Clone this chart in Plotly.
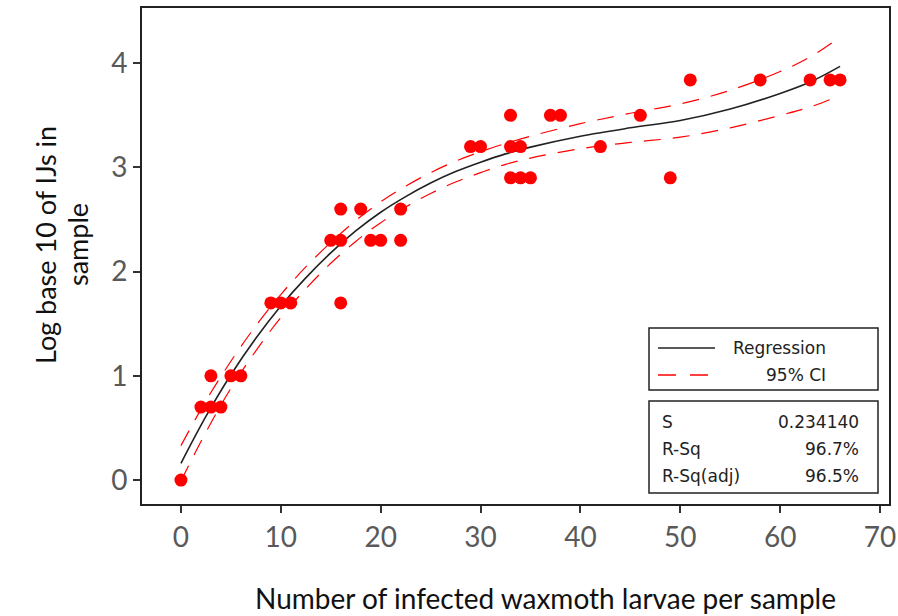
import plotly.graph_objects as go

# ---- data ----
larvae = [0, 2, 3, 4, 3, 5, 6, 9, 10, 11, 15, 16, 16, 16, 18, 19, 20, 22, 22,
          29, 30, 33, 33, 33, 34, 34, 35, 37, 38, 42, 46, 49, 51, 58, 63, 65, 66]
log_ijs = [0.0, 0.7, 0.7, 0.7, 1.0, 1.0, 1.0, 1.7, 1.7, 1.7, 2.3, 2.3, 2.6, 1.7, 2.6, 2.3, 2.3, 2.3, 2.6,
           3.2, 3.2, 3.5, 3.2, 2.9, 3.2, 2.9, 2.9, 3.5, 3.5, 3.2, 3.5, 2.9, 3.84, 3.84, 3.84, 3.84, 3.84]

fit_x = [0, 2.5, 5, 7.5, 10, 12.5, 15, 17.5, 20, 22.5, 25, 27.5, 30, 32.5, 35, 40, 45, 50, 55, 60, 63, 66]
fit_y = [0.16, 0.61, 1.01, 1.36, 1.67, 1.94, 2.18, 2.39, 2.57, 2.72, 2.85, 2.96, 3.05, 3.13, 3.195,
         3.30, 3.38, 3.45, 3.56, 3.71, 3.82, 3.97]
ci_upper = [0.33, 0.76, 1.14, 1.48, 1.78, 2.045, 2.28, 2.49, 2.67, 2.82, 2.95, 3.06, 3.15, 3.23, 3.30,
            3.42, 3.52, 3.61, 3.74, 3.92, 4.06, 4.25]
ci_lower = [-0.01, 0.46, 0.88, 1.24, 1.56, 1.835, 2.08, 2.29, 2.47, 2.62, 2.75, 2.86, 2.95, 3.03, 3.09,
            3.18, 3.24, 3.29, 3.38, 3.50, 3.58, 3.69]

x_ticks = [0, 10, 20, 30, 40, 50, 60, 70]
y_ticks = [0, 1, 2, 3, 4]

stat_names = ["S", "R-Sq", "R-Sq(adj)"]
stat_values = ["0.234140", "96.7%", "96.5%"]
legend_labels = ["Regression", "95% CI"]
y_title_lines = ["Log base 10 of IJs in", "sample"]
x_title = "Number of infected waxmoth larvae per sample"

# ---- layout geometry (pixels) ----
W, H = 898, 616
L, R, T, B = 142, 889, 8, 504


def px(xp):
    return (xp - L) / (R - L)


def py(yp):
    return (B - yp) / (B - T)


fig = go.Figure()

ci_line = dict(color="#ff0000", width=1.2, dash="17px,12px", shape="spline")
fig.add_trace(go.Scatter(x=fit_x, y=ci_upper, mode="lines", line=ci_line, hoverinfo="skip", showlegend=False))
fig.add_trace(go.Scatter(x=fit_x, y=ci_lower, mode="lines", line=ci_line, hoverinfo="skip", showlegend=False))
fig.add_trace(go.Scatter(x=fit_x, y=fit_y, mode="lines", line=dict(color="#222222", width=1.6, shape="spline"),
                         showlegend=False))
fig.add_trace(go.Scatter(x=larvae, y=log_ijs, mode="markers",
                         marker=dict(color="#ff0000", size=13, line=dict(width=0)), showlegend=False))

tickfont = dict(family="Lato, Carlito, Calibri, sans-serif", size=28, color="#595959")

fig.update_xaxes(range=[-3.9, 70.9], tickvals=x_ticks, ticktext=[str(v) for v in x_ticks], automargin=False,
                 showgrid=False, zeroline=False, showline=True, linecolor="#222222", linewidth=2, mirror=True,
                 ticks="outside", ticklen=7, tickwidth=1.5, tickcolor="#333333", tickfont=tickfont)
fig.update_yaxes(range=[-0.23, 4.53], tickvals=y_ticks, ticktext=[str(v) for v in y_ticks], automargin=False,
                 showgrid=False, zeroline=False, showline=True, linecolor="#222222", linewidth=2, mirror=True,
                 ticks="outside", ticklen=7, tickwidth=1.5, tickcolor="#333333", tickfont=tickfont)

shapes = []
# legend box
shapes.append(dict(type="rect", xref="paper", yref="paper", x0=px(649), x1=px(878), y0=py(390), y1=py(328),
                   line=dict(color="#222222", width=1.5), fillcolor="white", layer="above"))
shapes.append(dict(type="line", xref="paper", yref="paper", x0=px(658), x1=px(715), y0=py(348), y1=py(348),
                   line=dict(color="#222222", width=1.5), layer="above"))
shapes.append(dict(type="line", xref="paper", yref="paper", x0=px(658), x1=px(711), y0=py(375), y1=py(375),
                   line=dict(color="#ff0000", width=1.5, dash="18px,14px"), layer="above"))
# stats box
shapes.append(dict(type="rect", xref="paper", yref="paper", x0=px(649), x1=px(878), y0=py(493), y1=py(401),
                   line=dict(color="#222222", width=1.5), fillcolor="white", layer="above"))

boxfont = dict(family="DejaVu Sans, Verdana, sans-serif", size=17, color="#222222")
annotations = []
for lbl, yy in zip(legend_labels, [348, 375]):
    annotations.append(dict(text=lbl, xref="paper", yref="paper", x=px(828), y=py(yy), xanchor="right",
                            yanchor="middle", showarrow=False, font=boxfont))
for name, val, yy in zip(stat_names, stat_values, [422, 449, 476]):
    annotations.append(dict(text=name, xref="paper", yref="paper", x=px(660), y=py(yy), xanchor="left",
                            yanchor="middle", showarrow=False, font=boxfont))
    annotations.append(dict(text=val, xref="paper", yref="paper", x=px(861), y=py(yy), xanchor="right",
                            yanchor="middle", showarrow=False, font=boxfont))

titlefont = dict(family="Lato, Carlito, Calibri, sans-serif", size=27, color="#111111")
for line_text, xx in zip(y_title_lines, [46, 78]):
    annotations.append(dict(text=line_text, xref="paper", yref="paper", x=px(xx), y=py(245),
                            xanchor="center", yanchor="middle", textangle=-90, showarrow=False, font=titlefont))
annotations.append(dict(text=x_title, xref="paper", yref="paper",
                        x=px(545), y=py(598), xanchor="center", yanchor="middle", showarrow=False,
                        font=dict(family="Lato, Carlito, Calibri, sans-serif", size=28, color="#111111")))

fig.update_layout(width=W, height=H, margin=dict(l=L, r=W - R, t=T, b=H - B),
                  paper_bgcolor="white", plot_bgcolor="white", shapes=shapes, annotations=annotations,
                  showlegend=False)

fig.write_html("out.html", config={"displayModeBar": False},
               post_script="document.body.style.margin='0';document.body.style.overflow='hidden';")
